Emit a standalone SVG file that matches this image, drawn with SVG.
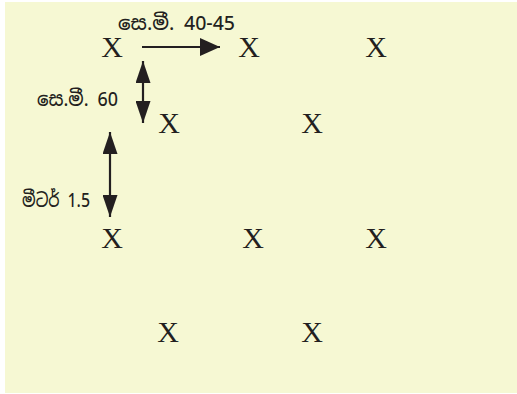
<svg xmlns="http://www.w3.org/2000/svg" width="517" height="394" viewBox="0 0 517 394">
<style>
.x{font-family:"Liberation Serif","Times New Roman",serif;font-size:30px;fill:#231f20;text-anchor:middle}
.lbl{font-family:"Noto Sans Sinhala","Noto Sans","DejaVu Sans",sans-serif;font-size:19px;font-weight:500;fill:#231f20}
.ln{stroke:#231f20;stroke-width:2.2;fill:none}
</style>
<defs>
<marker id="ah" viewBox="0 0 20 18" refX="20" refY="9" markerWidth="20" markerHeight="18" markerUnits="userSpaceOnUse" orient="auto-start-reverse">
<path d="M0,0 L20,9 L0,18 Z" fill="#231f20"/>
</marker>
<marker id="av" viewBox="0 0 22 15" refX="22" refY="7.5" markerWidth="22" markerHeight="15" markerUnits="userSpaceOnUse" orient="auto-start-reverse">
<path d="M0,0 L22,7.5 L0,15 Z" fill="#231f20"/>
</marker>
</defs>
<rect x="5" y="2" width="512" height="391" fill="#f6f8d3"/>
<g id="connectors">
<line class="ln" x1="142" y1="47" x2="220" y2="47" marker-end="url(#ah)"/>
<line class="ln" x1="143" y1="61" x2="143" y2="123" marker-start="url(#av)" marker-end="url(#av)"/>
<line class="ln" x1="110" y1="132" x2="110" y2="217" marker-start="url(#av)" marker-end="url(#av)"/>
</g>
<g id="labels">
<text class="lbl" x="118" y="30" textLength="117" lengthAdjust="spacingAndGlyphs">සෙ.මී. 40-45</text>
<text class="lbl" x="37" y="106" textLength="81" lengthAdjust="spacingAndGlyphs">සෙ.මී. 60</text>
<text class="lbl" x="22" y="207" textLength="68" lengthAdjust="spacingAndGlyphs">මීටර් 1.5</text>
</g>
<g id="x-r1c1"><text class="x" x="112" y="57">X</text></g>
<g id="x-r1c2"><text class="x" x="249" y="57">X</text></g>
<g id="x-r1c3"><text class="x" x="376" y="57">X</text></g>
<g id="x-r2c1"><text class="x" x="169" y="133">X</text></g>
<g id="x-r2c2"><text class="x" x="312" y="133">X</text></g>
<g id="x-r3c1"><text class="x" x="112" y="248">X</text></g>
<g id="x-r3c2"><text class="x" x="253" y="248">X</text></g>
<g id="x-r3c3"><text class="x" x="376" y="248">X</text></g>
<g id="x-r4c1"><text class="x" x="168" y="342">X</text></g>
<g id="x-r4c2"><text class="x" x="312" y="342">X</text></g>
</svg>
